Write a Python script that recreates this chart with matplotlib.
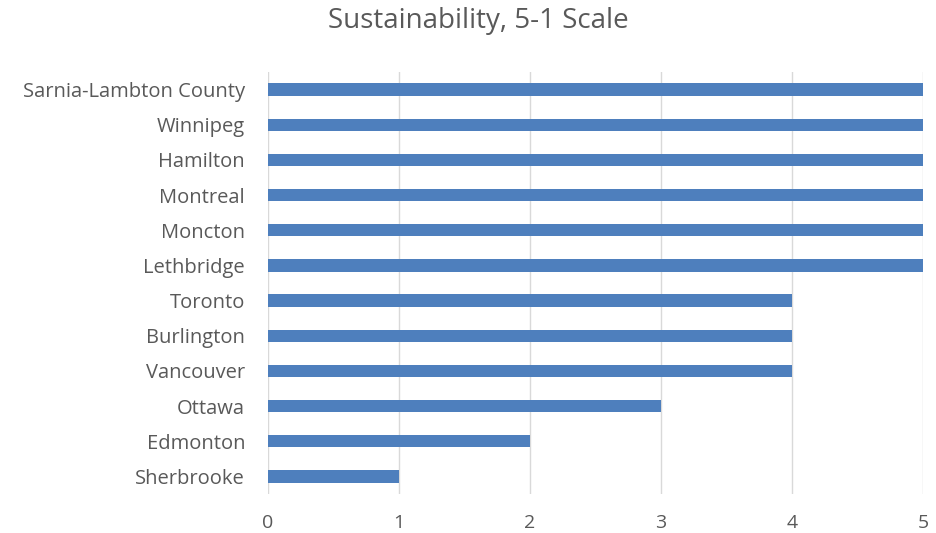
import matplotlib
matplotlib.use("Agg")
import matplotlib.pyplot as plt

cities = ["Sarnia-Lambton County", "Winnipeg", "Hamilton", "Montreal", "Moncton",
          "Lethbridge", "Toronto", "Burlington", "Vancouver", "Ottawa", "Edmonton", "Sherbrooke"]
scores = [5, 5, 5, 5, 5, 5, 4, 4, 4, 3, 2, 1]
xticks = [0, 1, 2, 3, 4, 5]

plt.rcParams['font.family'] = ['Open Sans', 'DejaVu Sans']

fig = plt.figure(figsize=(9.36, 5.33), dpi=100)
ax = fig.add_axes([268/936, 1-494/533, 655/936, 422/533])

y = list(range(len(cities)))[::-1]
ax.barh(y, scores, height=0.35, color="#4E7FBD", zorder=3)
ax.set_yticks(y)
ax.set_yticklabels(cities, fontsize=14.5, color="#595959")
ax.set_ylim(-0.5, len(cities)-0.5)
ax.set_xlim(0, 5)
ax.set_xticks(xticks)
ax.set_xticklabels([str(t) for t in xticks], fontsize=14, color="#595959")
ax.grid(axis="x", color="#D9D9D9", linewidth=1, zorder=0)
for s in ax.spines.values():
    s.set_visible(False)
ax.tick_params(length=0)
ax.tick_params(axis="y", pad=16.5)
ax.tick_params(axis="x", pad=14.5)
fig.text(478/936, 1-21/533, "Sustainability, 5-1 Scale", ha="center", va="center",
         fontsize=20, color="#595959")
fig.savefig("out.png", dpi=100)
